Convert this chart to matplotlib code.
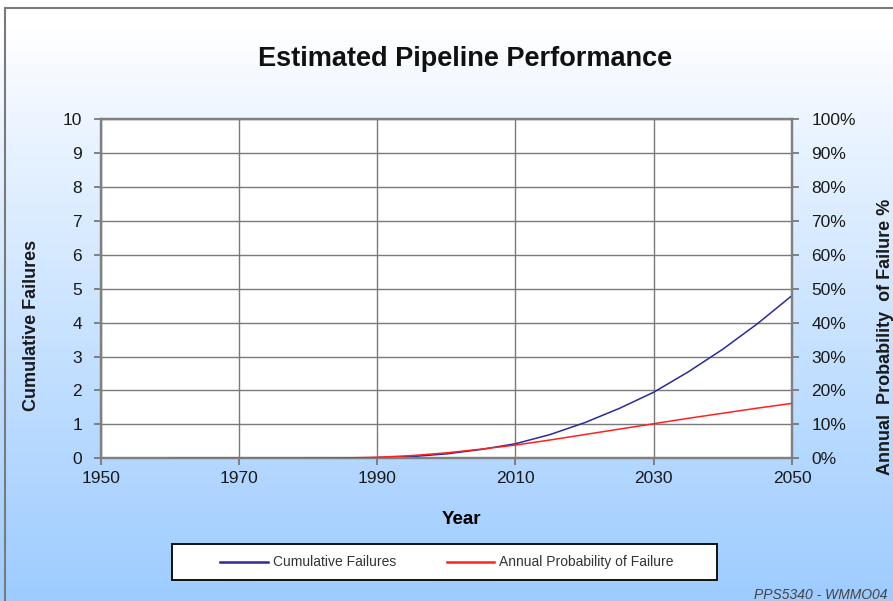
import numpy as np
import matplotlib
matplotlib.use("Agg")
import matplotlib.pyplot as plt
from matplotlib.lines import Line2D
from matplotlib.patches import Rectangle

plt.rcParams['font.family'] = ['Liberation Sans', 'DejaVu Sans']

# Data
years = [1960, 1965, 1970, 1975, 1980, 1985, 1990, 1995, 2000, 2005,
         2010, 2015, 2020, 2025, 2030, 2035, 2040, 2045, 2050]
cumulative_failures = [0.0, 0.0, 0.0, 0.0, 0.0, 0.0, 0.02, 0.05, 0.13, 0.26,
                       0.43, 0.70, 1.05, 1.47, 1.95, 2.55, 3.22, 3.97, 4.80]
annual_probability_pct = [0.0, 0.0, 0.0, 0.0, 0.05, 0.1, 0.3, 0.8, 1.6, 2.7,
                          3.9, 5.4, 7.0, 8.6, 10.2, 11.8, 13.3, 14.8, 16.2]
x_ticks = [1950, 1970, 1990, 2010, 2030, 2050]
left_ticks = list(range(0, 11))
right_ticks = list(range(0, 101, 10))
series_names = ['Cumulative Failures', 'Annual Probability of Failure']

BLUE = '#2a2a9a'
RED = '#ff2020'

W, H = 893, 601
fig = plt.figure(figsize=(W / 100, H / 100), dpi=100)

def fx(px):
    return px / W

def fy(py):
    return 1 - py / H

# Vertical white-to-blue background gradient
bg = fig.add_axes([0, 0, 1, 1], zorder=-10)
t = np.linspace(0, 1, 256)[:, None]
t = np.clip((t - 0.05) / 0.95, 0, 1) ** 0.9
top = np.array([1.0, 1.0, 1.0])
bottom = np.array([0.62, 0.80, 1.0])
grad = top[None, None, :] * (1 - t[..., None]) + bottom[None, None, :] * t[..., None]
grad = np.repeat(grad, 2, axis=1)
bg.imshow(grad, aspect='auto', extent=[0, 1, 0, 1], origin='upper')
bg.set_xlim(0, 1)
bg.set_ylim(0, 1)
bg.axis('off')

# Outer frame
fig.patches.append(Rectangle((fx(5), -0.1), 1.2, fy(8) + 0.1,
                             transform=fig.transFigure, fill=False,
                             edgecolor='#7a7a7a', linewidth=1.5))

left, right = fx(100.7), fx(792.0)
bot, topy = fy(458.3), fy(119.3)
ax = fig.add_axes([left, bot, right - left, topy - bot])
ax.set_facecolor('white')

ax.plot(years, cumulative_failures, color=BLUE, linewidth=1.1, zorder=3)
ax.set_xlim(1950, 2050)
ax.set_ylim(0, 10)
ax.set_xticks(x_ticks)
ax.set_yticks(left_ticks)
ax.grid(True, color='#7a7a7a', linewidth=1.0)
ax.set_axisbelow(True)

for s in ax.spines.values():
    s.set_color('#808080')
    s.set_linewidth(1.6)

ax.tick_params(axis='both', colors='#707070', labelcolor='#1a1a1a',
               labelsize=12.5, length=5, width=1.2, direction='out')
ax.tick_params(axis='x', pad=4)
ax.tick_params(axis='y', pad=8.5)

ax.set_xlabel('Year', fontsize=13.5, fontweight='bold')
ax.xaxis.set_label_coords((fx(461) - left) / (right - left),
                          (fy(511) - bot) / (topy - bot))
ax.set_ylabel('Cumulative Failures', fontsize=13, fontweight='bold',
              color='#1a1a1a')
ax.yaxis.set_label_coords((fx(40) - left) / (right - left),
                          (fy(325) - bot) / (topy - bot))

ax2 = ax.twinx()
ax2.plot(years, annual_probability_pct, color=RED, linewidth=1.1, zorder=3)
ax2.set_ylim(0, 100)
ax2.set_yticks(right_ticks)
ax2.set_yticklabels([f'{v}%' for v in right_ticks])
ax2.tick_params(axis='y', colors='#707070', labelcolor='#1a1a1a',
                labelsize=12.5, length=5, width=1.2, direction='out', pad=9)
for s in ax2.spines.values():
    s.set_color('#808080')
    s.set_linewidth(1.6)
ax2.set_ylabel('Annual  Probability  of Failure %', fontsize=13,
               fontweight='bold', color='#1a1a1a', rotation=90)
ax2.yaxis.set_label_coords((fx(877) - left) / (right - left),
                           (fy(337) - bot) / (topy - bot))

fig.text(fx(465), fy(59), 'Estimated Pipeline Performance',
         fontsize=19.5, fontweight='bold', ha='center', va='center',
         color='#111111')

# Legend box
fig.patches.append(Rectangle((fx(172), fy(580)), fx(717) - fx(172),
                             fy(544) - fy(580), transform=fig.transFigure,
                             facecolor='white', edgecolor='#111111',
                             linewidth=1.4, zorder=5))
legend_y = fy(562)
for color, name, x0, x1, xt in [(BLUE, series_names[0], 220, 268, 273),
                                (RED, series_names[1], 447, 494, 499)]:
    fig.lines.append(Line2D([fx(x0), fx(x1)], [legend_y, legend_y],
                            transform=fig.transFigure, color=color,
                            linewidth=1.8, zorder=6))
    fig.text(fx(xt), legend_y, name, fontsize=10, ha='left', va='center',
             color='#333333', zorder=6)

fig.text(fx(887), fy(595), 'PPS5340 - WMMO04', fontsize=10,
         style='italic', ha='right', va='center', color='#444444')

fig.savefig('out.png', dpi=100)
